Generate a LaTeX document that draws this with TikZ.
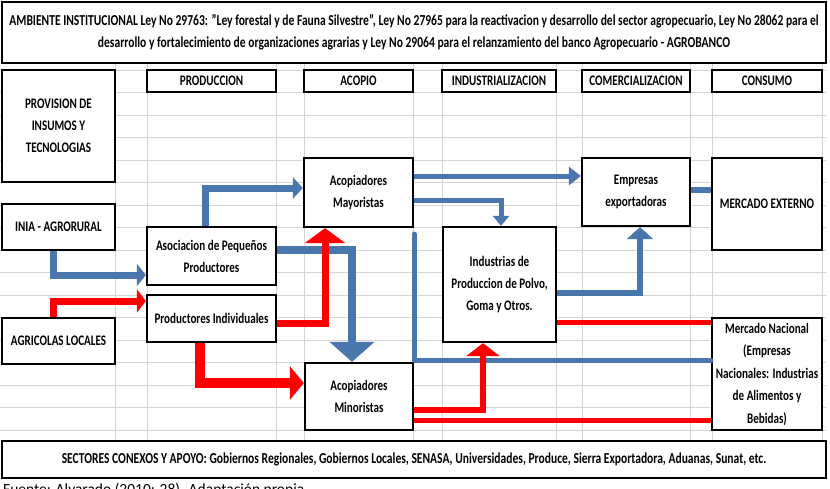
\documentclass[tikz,border=0pt]{standalone}
\usepackage{fontspec}
\setmainfont{Carlito}[FakeStretch=0.76]
\newfontfamily\srcfont{Carlito}
\usetikzlibrary{arrows.meta,calc}
\definecolor{bl}{HTML}{4A76AE}
\definecolor{rd}{HTML}{FF0000}
\definecolor{gridc}{HTML}{D4D4D4}
\begin{document}
\begin{tikzpicture}[x=1pt,y=-1pt,
  box/.style={draw=black, line width=2.3pt, fill=white, inner sep=1pt, align=center,
    font=\fontsize{14.6}{22}\selectfont\bfseries},
  gridl/.style={draw=gridc, line width=1pt},
  blarrow/.style={draw=bl, line width=#1},
  rdarrow/.style={draw=rd, line width=#1},
  tipb/.style n args={2}{-{Triangle[width=#1pt,length=#2pt]}},
]
\useasboundingbox (0,0) rectangle (830,488);
\fill[white] (0,0) rectangle (830,488);
% spreadsheet grid
\foreach \x in {115,147,276,304,413,442,556,582,690,712,822}
  \draw[gridl] (\x,63) -- (\x,441);
\foreach \i in {0,...,16}
  \draw[gridl] (0,{70+22.5*\i}) -- (826,{70+22.5*\i});

% banner
\node[box, minimum width=824pt, minimum height=61pt, font=\fontsize{15.2}{22}\selectfont\bfseries] (amb) at (414,32.5)
  {AMBIENTE INSTITUCIONAL Ley No 29763: "Ley forestal y de Fauna Silvestre", Ley No 27965 para la reactivacion y desarrollo del sector agropecuario, Ley No 28062 para el\\
   desarrollo y fortalecimiento de organizaciones agrarias y Ley No 29064 para el relanzamiento del banco Agropecuario - AGROBANCO};

% headers
\node[box, minimum width=129pt, minimum height=22pt] (hprod) at (211.5,81) {PRODUCCION};
\node[box, minimum width=109pt, minimum height=22pt] (hacop) at (358.5,81) {ACOPIO};
\node[box, minimum width=114pt, minimum height=22pt] (hind) at (499,81) {INDUSTRIALIZACION};
\node[box, minimum width=108pt, minimum height=22pt] (hcom) at (636,81) {COMERCIALIZACION};
\node[box, minimum width=110pt, minimum height=22pt] (hcons) at (767,81) {CONSUMO};

% left column
\node[box, minimum width=113pt, minimum height=112pt] (prov) at (58.5,126) {PROVISION DE\\INSUMOS Y\\TECNOLOGIAS};
\node[box, minimum width=113pt, minimum height=46pt] (inia) at (58.5,227) {INIA - AGRORURAL};
\node[box, minimum width=113pt, minimum height=46pt] (agri) at (58.5,341) {AGRICOLAS LOCALES};

% production
\node[box, minimum width=129pt, minimum height=58pt] (asoc) at (211.5,256) {Asociacion de Pequeños\\Productores};
\node[box, minimum width=129pt, minimum height=47pt] (pind) at (211.5,318.5) {Productores Individuales};

% acopio
\node[box, minimum width=109pt, minimum height=69pt] (may) at (358.5,192.5) {Acopiadores\\Mayoristas};
\node[box, minimum width=108pt, minimum height=67pt] (min) at (359,396.5) {Acopiadores\\Minoristas};

% industrializacion
\node[box, minimum width=113pt, minimum height=115pt] (ind) at (499.5,284.5) {Industrias de\\Produccion de Polvo,\\Goma y Otros.};

% comercializacion
\node[box, minimum width=108pt, minimum height=68pt] (emp) at (636,192) {Empresas\\exportadoras};

% consumo
\node[box, minimum width=110pt, minimum height=92pt] (mext) at (767,204) {MERCADO EXTERNO};
\node[box, minimum width=110pt, minimum height=112pt, font=\fontsize{14.6}{22.5}\selectfont\bfseries] (mnac) at (767,374)
  {Mercado Nacional\\(Empresas\\Nacionales: Industrias\\de Alimentos y\\Bebidas)};

% bottom banner
\node[box, minimum width=824pt, minimum height=37pt, font=\fontsize{15.2}{22}\selectfont\bfseries] (sect) at (414,459.5)
  {SECTORES CONEXOS Y APOYO: Gobiernos Regionales, Gobiernos Locales, SENASA, Universidades, Produce, Sierra Exportadora, Aduanas, Sunat, etc.};

% footer (cut off at the bottom edge, as in the source)
\node[anchor=base west, inner sep=0pt, font=\srcfont\fontsize{15.5}{17}\selectfont] (src) at (3,494) {Fuente: Alvarado (2010: 28). Adaptación propia};

% ---- blue connectors ----
\draw[blarrow=7pt, tipb={21}{10}] ([xshift=-6.5pt]asoc.north) |- ([yshift=4.5pt]may.west);
\draw[blarrow=7pt, tipb={22}{9}] ([xshift=-5.5pt]inia.south) |- ([yshift=-19pt]asoc.west);
\draw[blarrow=8pt, tipb={44}{20}] ([yshift=6pt]asoc.east) -| ([xshift=-7pt]min.north);
\draw[blarrow=5pt, tipb={18}{12}] ([yshift=16.5pt]may.east) -- ([yshift=16.5pt]may.east -| emp.west);
\draw[blarrow=5pt, tipb={16}{10}] ([yshift=-7.5pt]may.east) -| ([xshift=1.5pt]ind.north);
\draw[blarrow=6pt, tipb={26}{12}] ([yshift=-8pt]ind.east) -| ([xshift=4pt]emp.south);
\draw[blarrow=6pt] ([yshift=2pt]emp.east) -- ([yshift=2pt]emp.east -| mext.west);
\coordinate (bend) at ($(may.south east)+(0,6)$);
\draw[blarrow=5pt, line cap=round, line join=round] ([yshift=14pt]mnac.west) -| (bend);

% ---- red connectors ----
\draw[rdarrow=7pt, tipb={23}{9}] ([xshift=-5.5pt]agri.north) |- ([yshift=17.5pt]pind.west);
\draw[rdarrow=7pt, tipb={40}{15}] ([yshift=-5pt]pind.east) -| ([xshift=-33.5pt]may.south);
\draw[rdarrow=10pt, tipb={33}{14}] ([xshift=-11.5pt]pind.south) |- ([yshift=13.5pt]min.west);
\draw[rdarrow=6pt, tipb={33}{13}] ([yshift=-13pt]min.east) -| ([xshift=-16.5pt]ind.south);
\draw[rdarrow=5pt] ([yshift=-24pt]min.east) -- ([yshift=-24pt]min.east -| mnac.west);
\draw[rdarrow=5pt] ([yshift=-37.5pt]ind.east) -- ([yshift=-37.5pt]ind.east -| mnac.west);
\end{tikzpicture}
\end{document}
